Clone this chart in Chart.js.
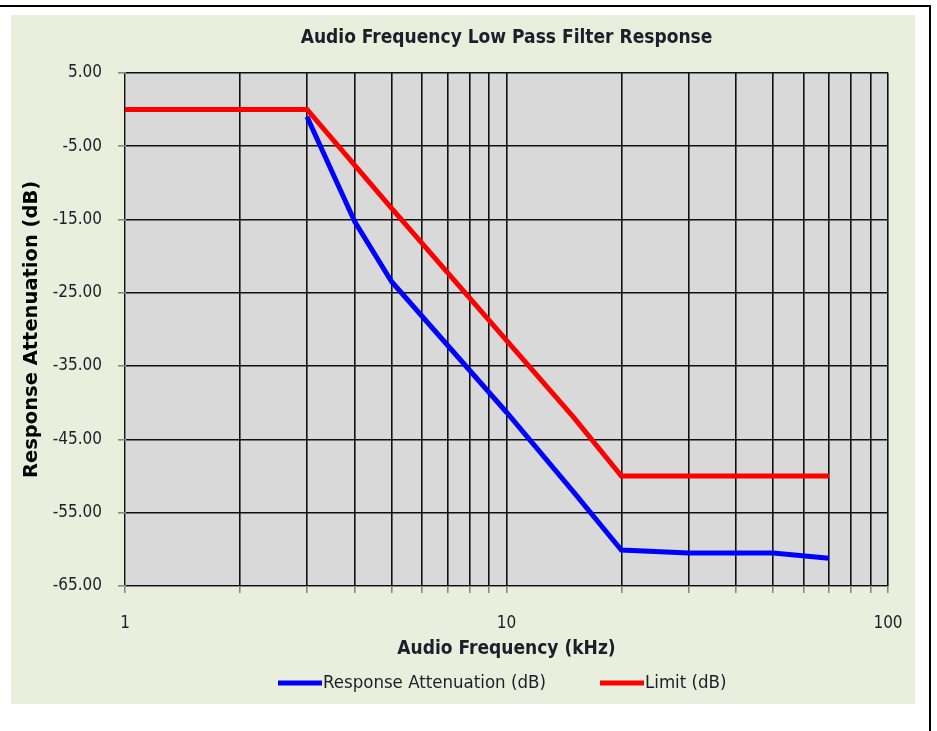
<!DOCTYPE html>
<html>
<head>
<meta charset="utf-8">
<script src="https://cdn.jsdelivr.net/npm/chart.js@4.4.1/dist/chart.umd.min.js"></script>
<style>
    html, body { margin: 0; padding: 0; background: #fff; overflow: hidden; }
    #frame {
        position: absolute; left: -4px; top: 5px;
        width: 933px; height: 740px;
        border-top: 2px solid #000; border-right: 2px solid #000;
    }
    #panel {
        position: absolute; left: 11px; top: 15px;
        width: 904px; height: 689px;
        background: #eaeedd;
    }
    #chart { position: absolute; left: 11px; top: 15px; }
</style>
</head>
<body>
<div id="frame"></div>
<div id="panel"></div>
<canvas id="chart" width="942" height="689"></canvas>
<script>
// Frequencies (kHz) and levels (dB)
const responseFreq = [3, 4, 5, 10, 15, 20, 30, 50, 70];
const responseDb = [-1, -15.3, -23.5, -41.3, -52.2, -60.1, -60.5, -60.5, -61.2];
const limitFreq = [1, 3, 5, 10, 15, 20, 30, 50, 70];
const limitDb = [0, 0, -13.5, -31.5, -42, -50, -50, -50, -50];

const xTickValues = [1, 2, 3, 4, 5, 6, 7, 8, 9, 10, 20, 30, 40, 50, 60, 70, 80, 90, 100];
const xTickLabels = ['1', '10', '100'];
const yTickValues = [5, -5, -15, -25, -35, -45, -55, -65];

const narrowFont = "'Liberation Sans Narrow', 'DejaVu Sans Condensed', sans-serif";
const textColor = '#1e1e2a';

// grey plotting area
const plotBackground = {
    id: 'plotBackground',
    beforeDraw(chart) {
        const { ctx, chartArea } = chart;
        ctx.save();
        ctx.fillStyle = '#d9d9d9';
        ctx.fillRect(chartArea.left, chartArea.top, chartArea.right - chartArea.left, chartArea.bottom - chartArea.top);
        ctx.restore();
    }
};

// Excel-style legend: short line then the label right after it
const lineLegend = {
    id: 'lineLegend',
    afterDraw(chart) {
        const ctx = chart.ctx;
        const y = 668;
        const starts = [267, 589];
        ctx.save();
        ctx.font = '18.5px ' + narrowFont;
        ctx.textBaseline = 'middle';
        chart.data.datasets.forEach((ds, i) => {
            const x = starts[i];
            ctx.strokeStyle = ds.borderColor;
            ctx.lineWidth = 5;
            ctx.beginPath();
            ctx.moveTo(x, y);
            ctx.lineTo(x + 44, y);
            ctx.stroke();
            ctx.fillStyle = textColor;
            ctx.fillText(ds.label, x + 45, y);
        });
        ctx.restore();
    }
};

new Chart(document.getElementById('chart'), {
    type: 'line',
    data: {
        datasets: [
            {
                label: 'Response Attenuation (dB)',
                data: responseFreq.map((f, i) => ({ x: f, y: responseDb[i] })),
                borderColor: '#0000ff',
                backgroundColor: '#0000ff',
                borderWidth: 5,
                pointRadius: 0,
                tension: 0
            },
            {
                label: 'Limit (dB)',
                data: limitFreq.map((f, i) => ({ x: f, y: limitDb[i] })),
                borderColor: '#ff0000',
                backgroundColor: '#ff0000',
                borderWidth: 5,
                pointRadius: 0,
                tension: 0
            }
        ]
    },
    options: {
        responsive: false,
        animation: false,
        layout: { padding: { left: 0, right: 65, top: 0, bottom: 36 } },
        plugins: {
            legend: { display: false },
            tooltip: { enabled: false },
            title: {
                display: true,
                fullSize: false,
                text: 'Audio Frequency Low Pass Filter Response',
                color: textColor,
                font: { family: narrowFont, size: 19, weight: 'bold' },
                padding: { top: 12, bottom: 23 }
            }
        },
        scales: {
            x: {
                type: 'logarithmic',
                min: 1,
                max: 100,
                afterBuildTicks: (axis) => { axis.ticks = xTickValues.map(v => ({ value: v })); },
                afterFit: (axis) => { axis.height = 82; },
                border: { color: '#868686', width: 1 },
                grid: { color: '#111', lineWidth: 1.6, drawTicks: true, tickLength: 7, tickColor: '#868686' },
                ticks: {
                    autoSkip: false,
                    maxRotation: 0,
                    padding: 20,
                    color: textColor,
                    font: { family: narrowFont, size: 17 },
                    callback: (v) => xTickLabels.includes(String(v)) ? String(v) : ''
                },
                title: {
                    display: true,
                    text: 'Audio Frequency (kHz)',
                    color: textColor,
                    font: { family: narrowFont, size: 19, weight: 'bold' },
                    padding: { top: 0, bottom: 8 }
                }
            },
            y: {
                type: 'linear',
                min: -65,
                max: 5,
                afterBuildTicks: (axis) => { axis.ticks = yTickValues.map(v => ({ value: v })); },
                afterFit: (axis) => { axis.width = 114; },
                border: { color: '#868686', width: 1 },
                grid: { color: '#111', lineWidth: 1.6, drawTicks: true, tickLength: 7, tickColor: '#868686' },
                ticks: {
                    padding: 16,
                    color: textColor,
                    font: { family: narrowFont, size: 17 },
                    callback: (v) => Number(v).toFixed(2)
                },
                title: {
                    display: true,
                    text: 'Response Attenuation (dB)',
                    color: '#000',
                    font: { family: "'DejaVu Sans', sans-serif", size: 19.5, weight: 'bold' },
                    padding: { top: 9, bottom: 0 }
                }
            }
        }
    },
    plugins: [plotBackground, lineLegend]
});
</script>
</body>
</html>
